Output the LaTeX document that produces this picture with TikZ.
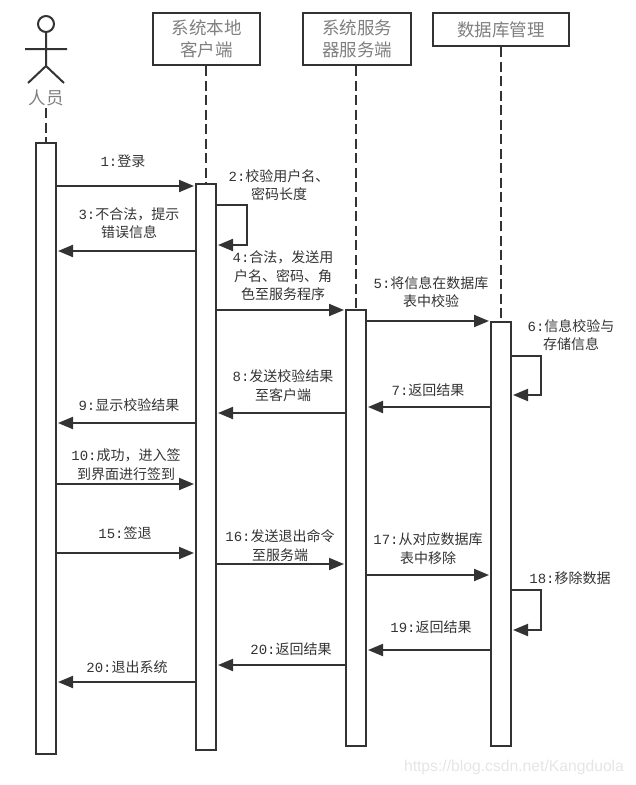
\documentclass[tikz,border=0pt]{standalone}
\usepackage{fontspec}
\usetikzlibrary{arrows.meta,calc}
\newfontfamily\cjkf{Noto Sans CJK SC}
\newfontfamily\monof{Liberation Mono}
\newfontfamily\wmf{Liberation Sans}
\newcommand{\nm}[1]{{\monof #1}}
\definecolor{ink}{HTML}{333333}
\definecolor{head}{HTML}{808080}
\tikzset{
  x=1pt,y=-1pt,
  inkline/.style={draw=ink,line width=2pt},
  headbox/.style={inkline,fill=white,inner sep=0pt,align=center,text=head,font=\cjkf\fontsize{17.5}{21.5}\selectfont},
  bar/.style={inkline,fill=white,minimum width=20pt,inner sep=0pt,anchor=north},
  life/.style={draw=ink,line width=2pt,dash pattern=on 10pt off 4.5pt},
  msg/.style={draw=ink,line width=2pt,-{Triangle[length=15pt,width=12pt]},shorten >=1pt},
  lab/.style={align=center,inner sep=0pt,text=ink,font=\cjkf\fontsize{14}{18.6}\selectfont},
}
\begin{document}
\begin{tikzpicture}
\useasboundingbox (0,0) rectangle (635,785);
% header boxes
\node[headbox,minimum width=107pt,minimum height=52pt] (hC) at (206.5,39) {系统本地\\客户端};
\node[headbox,minimum width=108pt,minimum height=52pt] (hS) at (357,39) {系统服务\\器服务端};
\node[headbox,minimum width=136pt,minimum height=33pt] (hD) at (501,29.5) {数据库管理};
% actor
\node[circle,inkline,minimum size=16pt,inner sep=0pt] (head) at (46,24) {};
\coordinate (hip) at (46,66);
\coordinate (armL) at (25,49);
\coordinate (armR) at (67,49);
\coordinate (legL) at (28,83);
\coordinate (legR) at (64,83);
\draw[inkline] (head.south) -- (hip) (armL) -- (armR) (legL) -- (hip) -- (legR);
\node[text=head,inner sep=0pt,font=\cjkf\fontsize{17.5}{20}\selectfont] (actor) at (46,98) {人员};
% activation bars
\node[bar,minimum height=611pt] (bA) at (46,142) {};
\node[bar,minimum height=566pt] (bC) at (206,183) {};
\node[bar,minimum height=436pt] (bS) at (356,309) {};
\node[bar,minimum height=424pt] (bD) at (501,321) {};
% lifelines
\coordinate (aT) at (46,108);
\draw[life] (aT) -- (bA.north);
\draw[life] (hC.south -| bC.north) -- (bC.north);
\draw[life] (hS.south -| bS.north) -- (bS.north);
\draw[life] (hD.south) -- (bD.north);
% messages
\draw[msg] (bA.east |- 0,186) -- (bC.west |- 0,186);
\draw[msg] (bC.west |- 0,251) -- (bA.east |- 0,251);
\draw[msg] (bC.east |- 0,310) -- (bS.west |- 0,310);
\draw[msg] (bS.east |- 0,321) -- (bD.west |- 0,321);
\draw[msg] (bD.west |- 0,407) -- (bS.east |- 0,407);
\draw[msg] (bS.west |- 0,413) -- (bC.east |- 0,413);
\draw[msg] (bC.west |- 0,423) -- (bA.east |- 0,423);
\draw[msg] (bA.east |- 0,484) -- (bC.west |- 0,484);
\draw[msg] (bA.east |- 0,553) -- (bC.west |- 0,553);
\draw[msg] (bC.east |- 0,564) -- (bS.west |- 0,564);
\draw[msg] (bS.east |- 0,575) -- (bD.west |- 0,575);
\draw[msg] (bD.west |- 0,650) -- (bS.east |- 0,650);
\draw[msg] (bS.west |- 0,665) -- (bC.east |- 0,665);
\draw[msg] (bC.west |- 0,682) -- (bA.east |- 0,682);
% self messages
\draw[msg] (bC.east |- 0,205) -- ++(30,0) |- (bC.east |- 0,245);
\draw[msg] (bD.east |- 0,356) -- ++(29,0) |- (bD.east |- 0,395);
\draw[msg] (bD.east |- 0,590) -- ++(29,0) |- (bD.east |- 0,630);
% labels
\node[lab] (l1) at (123,161) {\nm{1:}登录};
\node[lab] (l2) at (279,185) {\nm{2:}校验用户名、\\密码长度};
\node[lab] (l3) at (129,223) {\nm{3:}不合法，提示\\错误信息};
\node[lab] (l4) at (283,276) {\nm{4:}合法，发送用\\户名、密码、角\\色至服务程序};
\node[lab] (l5) at (431,292) {\nm{5:}将信息在数据库\\表中校验};
\node[lab] (l6) at (571,335) {\nm{6:}信息校验与\\存储信息};
\node[lab] (l7) at (428,390) {\nm{7:}返回结果};
\node[lab] (l8) at (283,385.5) {\nm{8:}发送校验结果\\至客户端};
\node[lab] (l9) at (129,405) {\nm{9:}显示校验结果};
\node[lab] (l10) at (126,464.5) {\nm{10:}成功，进入签\\到界面进行签到};
\node[lab] (l15) at (125,533) {\nm{15:}签退};
\node[lab] (l16) at (280,545.5) {\nm{16:}发送退出命令\\至服务端};
\node[lab] (l17) at (428,548.5) {\nm{17:}从对应数据库\\表中移除};
\node[lab] (l18) at (570,578) {\nm{18:}移除数据};
\node[lab] (l19) at (431,627) {\nm{19:}返回结果};
\node[lab] (l20) at (291,649) {\nm{20:}返回结果};
\node[lab] (l21) at (127,667) {\nm{20:}退出系统};
% watermark
\node[inner sep=0pt,text=black!10,font=\wmf\fontsize{15.7}{18}\selectfont] (wm) at (514,767) {https://blog.csdn.net/Kangduola};
\end{tikzpicture}
\end{document}
